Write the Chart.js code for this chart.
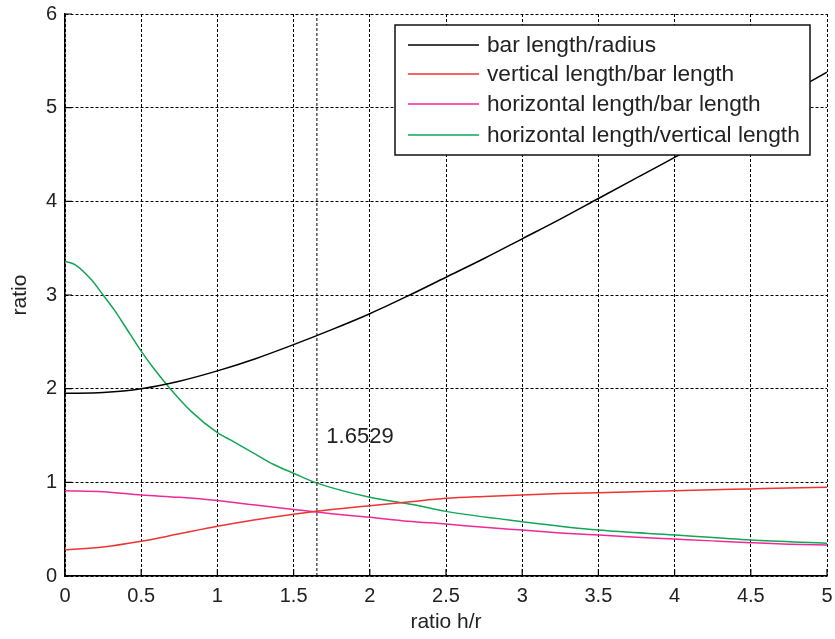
<!DOCTYPE html>
<html>
<head>
<meta charset="utf-8">
<script src="https://cdn.jsdelivr.net/npm/chart.js@4/dist/chart.umd.min.js"></script>
<style>
  html, body { margin: 0; padding: 0; background: #fff; }
  #wrap { width: 835px; height: 639px; }
</style>
</head>
<body>
<div id="wrap"><canvas id="ratioChart" width="835" height="639"></canvas></div>
<script>
// 横軸 h/r
const hr = [0, 0.25, 0.5, 0.75, 1, 1.25, 1.5, 1.75, 2, 2.25, 2.5, 2.75, 3, 3.25, 3.5, 3.75, 4, 4.25, 4.5, 4.75, 5];

// 各系列
const barRadius = [1.95, 1.96, 2.0, 2.08, 2.19, 2.32, 2.47, 2.63, 2.8, 2.99, 3.19, 3.39, 3.6, 3.81, 4.03, 4.25, 4.47, 4.7, 4.92, 5.15, 5.38];
const vertBar = [0.28, 0.31, 0.37, 0.45, 0.53, 0.6, 0.66, 0.71, 0.75, 0.79, 0.83, 0.85, 0.865, 0.88, 0.89, 0.9, 0.91, 0.92, 0.93, 0.94, 0.947];
const horizBar = [0.91, 0.9, 0.865, 0.84, 0.805, 0.757, 0.71, 0.665, 0.627, 0.585, 0.555, 0.52, 0.49, 0.46, 0.437, 0.415, 0.395, 0.375, 0.356, 0.34, 0.331];

// 緑の曲線は立ち上がりが急なので細かく読む
const hrGreen = [0, 0.07, 0.175, 0.25, 0.33, 0.4, 0.5, 0.58, 0.69, 0.83, 1, 1.1, 1.24, 1.37, 1.5, 1.64, 2, 2.29, 2.5, 3, 3.5, 4, 4.5, 5];
const horizVert = [3.36, 3.32, 3.16, 3.0, 2.825, 2.65, 2.4, 2.22, 2.0, 1.755, 1.53, 1.44, 1.31, 1.19, 1.097, 1.0, 0.84, 0.76, 0.69, 0.58, 0.49, 0.438, 0.385, 0.35];

const seriesLabels = ['bar length/radius', 'vertical length/bar length', 'horizontal length/bar length', 'horizontal length/vertical length'];
const seriesColors = ['#000000', '#ee3333', '#ee2a96', '#12a655'];

// 縦の補助線と注記
const markerX = 1.6529;
const markerText = '1.6529';
const markerTextPos = [1.715, 1.485];

const xTicks = [0, 0.5, 1, 1.5, 2, 2.5, 3, 3.5, 4, 4.5, 5];
const yTicks = [0, 1, 2, 3, 4, 5, 6];

function toPoints(xs, ys) {
    return xs.map((x, i) => ({ x: x, y: ys[i] }));
}

const FONT = 'Liberation Sans, Arial, Helvetica, sans-serif';

// 内向きの目盛り・注記・凡例
const extrasPlugin = {
    id: 'extras',
    afterDatasetsDraw(chart) {
        const { ctx, chartArea, scales } = chart;
        ctx.save();
        ctx.strokeStyle = '#000';
        ctx.lineWidth = 1.2;
        ctx.setLineDash([]);
        ctx.beginPath();
        xTicks.forEach(v => {
            const px = scales.x.getPixelForValue(v);
            ctx.moveTo(px, chartArea.bottom);
            ctx.lineTo(px, chartArea.bottom - 7);
        });
        yTicks.forEach(v => {
            const py = scales.y.getPixelForValue(v);
            ctx.moveTo(chartArea.left, py);
            ctx.lineTo(chartArea.left + 7, py);
        });
        ctx.stroke();

        // 注記
        ctx.fillStyle = '#222';
        ctx.font = '22px ' + FONT;
        ctx.textAlign = 'left';
        ctx.textBaseline = 'middle';
        ctx.fillText(markerText, scales.x.getPixelForValue(markerTextPos[0]), scales.y.getPixelForValue(markerTextPos[1]));

        // 凡例
        const box = { left: 395, top: 25, right: 810, bottom: 155 };
        const rows = [45, 74, 104, 135];
        ctx.fillStyle = '#fff';
        ctx.fillRect(box.left, box.top, box.right - box.left, box.bottom - box.top);
        ctx.strokeStyle = '#111';
        ctx.lineWidth = 1.5;
        ctx.strokeRect(box.left, box.top, box.right - box.left, box.bottom - box.top);
        ctx.font = '22.7px ' + FONT;
        seriesLabels.forEach((label, i) => {
            ctx.strokeStyle = seriesColors[i];
            ctx.lineWidth = 1.5;
            ctx.beginPath();
            ctx.moveTo(408, rows[i]);
            ctx.lineTo(479, rows[i]);
            ctx.stroke();
            ctx.fillStyle = '#222';
            ctx.fillText(label, 487, rows[i] + 1);
        });
        ctx.restore();
    }
};

const datasets = [[hr, barRadius], [hr, vertBar], [hr, horizBar], [hrGreen, horizVert]].map((s, i) => ({
    label: seriesLabels[i],
    data: toPoints(s[0], s[1]),
    borderColor: seriesColors[i],
    borderWidth: 1.5,
    pointRadius: 0,
    cubicInterpolationMode: 'monotone',
    fill: false
}));

datasets.push({
    label: 'marker',
    data: [{ x: markerX, y: 0 }, { x: markerX, y: 6 }],
    borderColor: '#000',
    borderWidth: 1,
    borderDash: [3, 2],
    pointRadius: 0,
    fill: false
});

const ctx = document.getElementById('ratioChart').getContext('2d');
new Chart(ctx, {
    type: 'line',
    data: { datasets: datasets },
    options: {
        responsive: false,
        animation: false,
        layout: { padding: { left: 0, right: 8, top: 14, bottom: 0 } },
        plugins: {
            legend: { display: false },
            tooltip: { enabled: false }
        },
        scales: {
            x: {
                type: 'linear',
                min: 0,
                max: 5,
                afterBuildTicks: scale => { scale.ticks = xTicks.map(v => ({ value: v })); },
                afterFit: scale => {
                    scale.height = 63;
                    scale.paddingLeft = 0;
                    scale.paddingRight = 0;
                },
                grid: { color: '#000', lineWidth: 1, drawTicks: false },
                border: { display: true, color: '#000', width: 1.5, dash: [3, 2] },
                ticks: {
                    color: '#222',
                    padding: 8,
                    font: { family: FONT, size: 20 },
                    callback: v => String(v)
                },
                title: {
                    display: true,
                    text: 'ratio h/r',
                    color: '#222',
                    padding: { top: 0, bottom: 4 },
                    font: { family: FONT, size: 21 }
                }
            },
            y: {
                type: 'linear',
                min: 0,
                max: 6,
                afterBuildTicks: scale => { scale.ticks = yTicks.map(v => ({ value: v })); },
                afterFit: scale => {
                    scale.width = 65;
                    scale.paddingTop = 0;
                    scale.paddingBottom = 0;
                },
                grid: { color: '#000', lineWidth: 1, drawTicks: false },
                border: { display: true, color: '#000', width: 1.5, dash: [3, 2] },
                ticks: {
                    color: '#222',
                    padding: 8,
                    font: { family: FONT, size: 20 }
                },
                title: {
                    display: true,
                    text: 'ratio',
                    color: '#222',
                    padding: { top: 8, bottom: 0 },
                    font: { family: FONT, size: 21 }
                }
            }
        }
    },
    plugins: [extrasPlugin]
});
</script>
</body>
</html>
